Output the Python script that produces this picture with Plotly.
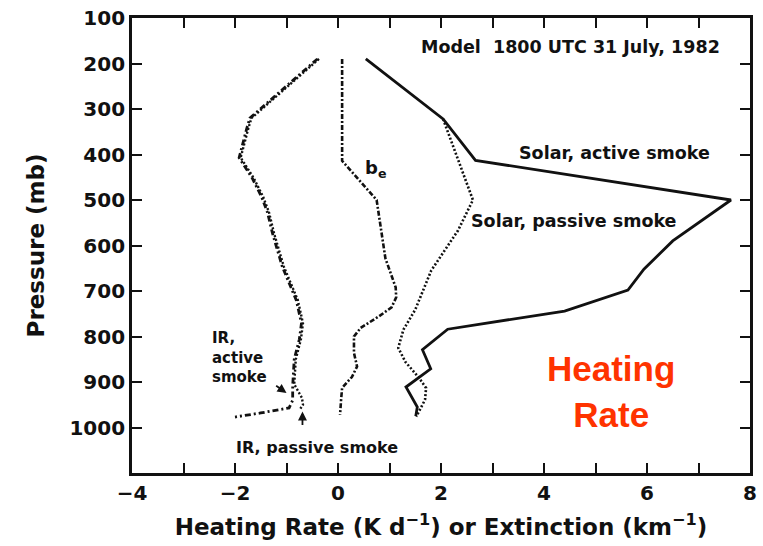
import plotly.graph_objects as go

# Vertical profiles: pressure levels (mb) and values (K/day or km^-1)
solar_active_x = [0.54, 2.04, 2.67, 7.63, 6.5, 5.94, 5.63, 4.40, 2.13, 1.64, 1.80, 1.32, 1.54, 1.51]
solar_active_p = [190, 322, 413, 500, 590, 652, 698, 744, 784, 829, 871, 911, 955, 975]

solar_passive_x = [2.04, 2.62, 2.33, 1.81, 1.50, 1.27, 1.17, 1.31, 1.56, 1.71, 1.69, 1.60, 1.52]
solar_passive_p = [322, 500, 567, 655, 741, 785, 825, 856, 889, 913, 939, 957, 976]

be_x = [0.08, 0.08, 0.75, 0.92, 1.12, 1.13, 1.04, 0.79, 0.44, 0.31, 0.31, 0.37, 0.27, 0.08, 0.06, 0.04]
be_p = [190, 414, 500, 628, 692, 714, 736, 756, 781, 800, 836, 866, 889, 913, 939, 972]

ir_active_x = [-0.40, -1.71, -1.77, -1.87, -1.92, -1.67, -1.48, -1.37, -1.27, -1.08, -0.81, -0.71,
               -0.75, -0.85, -0.88, -0.88, -0.95, -1.50, -2.00]
ir_active_p = [190, 320, 342, 386, 407, 451, 494, 527, 574, 647, 720, 771,
               806, 850, 909, 940, 957, 968, 977]

ir_passive_x = [-0.37, -1.68, -1.74, -1.84, -1.89, -1.64, -1.45, -1.34, -1.24, -1.05, -0.78, -0.68,
                -0.72, -0.82, -0.85, -0.70, -0.68, -0.75]
ir_passive_p = [190, 320, 342, 386, 407, 451, 494, 527, 574, 647, 720, 771,
                806, 850, 905, 935, 950, 962]

x_ticks = list(range(-4, 9))
x_tick_text = [("\u2212" + str(-v) if v < 0 else str(v)) if v % 2 == 0 else "" for v in x_ticks]
p_ticks = [100, 200, 300, 400, 500, 600, 700, 800, 900, 1000]

FONT = "DejaVu Sans"
INK = "#111111"

fig = go.Figure()

fig.add_trace(go.Scatter(x=solar_active_x, y=solar_active_p, mode="lines",
                         line=dict(color=INK, width=2.8), name="Solar, active smoke"))
fig.add_trace(go.Scatter(x=solar_passive_x, y=solar_passive_p, mode="lines",
                         line=dict(color=INK, width=2.6, dash="2px,2px"), name="Solar, passive smoke"))
fig.add_trace(go.Scatter(x=be_x, y=be_p, mode="lines",
                         line=dict(color=INK, width=2.6, dash="5px,2px,2px,2px"), name="b_e"))
fig.add_trace(go.Scatter(x=ir_passive_x, y=ir_passive_p, mode="lines",
                         line=dict(color=INK, width=2.4, dash="2px,2px"), name="IR, passive smoke"))
fig.add_trace(go.Scatter(x=ir_active_x, y=ir_active_p, mode="lines",
                         line=dict(color=INK, width=2.8, dash="6px,3px,2px,3px"), name="IR, active smoke"))

txt = dict(family=FONT, size=17.5, color=INK)
annotations = [
    dict(x=4.51, y=163, text="<b>Model  1800 UTC 31 July, 1982</b>", showarrow=False, font=txt),
    dict(x=5.37, y=397, text="<b>Solar, active smoke</b>", showarrow=False, font=txt),
    dict(x=4.59, y=546, text="<b>Solar, passive smoke</b>", showarrow=False, font=txt),
    dict(x=0.73, y=432, text="<b>b<sub>e</sub></b>", showarrow=False, font=dict(family=FONT, size=18, color=INK)),
    dict(x=-2.48, y=846, text="<b>IR,<br>active<br>smoke</b>", showarrow=False, xanchor="left",
         align="left", font=dict(family=FONT, size=15, color=INK)),
    dict(x=-1.0, y=924, ax=-1.23, ay=906, axref="x", ayref="y", text="", showarrow=True,
         arrowhead=2, arrowsize=1, arrowwidth=1.8, arrowcolor=INK),
    dict(x=-2.02, y=1043, text="<b>IR, passive smoke</b>", showarrow=False, xanchor="left",
         font=dict(family=FONT, size=16, color=INK)),
    dict(x=-0.69, y=965, ax=-0.69, ay=998, axref="x", ayref="y", text="", showarrow=True,
         arrowhead=2, arrowsize=1, arrowwidth=1.8, arrowcolor=INK),
    dict(x=5.31, y=920, text="<b>Heating<br>Rate</b>", showarrow=False,
         font=dict(family="Liberation Sans", size=35, color="#FF3300")),
]

axis_common = dict(showline=True, linewidth=2.8, linecolor=INK, mirror="ticks",
                   ticks="inside", ticklen=10, tickwidth=2.2, tickcolor=INK,
                   showgrid=False, zeroline=False,
                   tickfont=dict(family=FONT, size=20, color=INK, weight="bold"))

fig.update_layout(
    width=763, height=546,
    margin=dict(l=132, r=6, t=18, b=73),
    paper_bgcolor="white", plot_bgcolor="white",
    showlegend=False,
    annotations=annotations,
    xaxis=dict(range=[-4, 8], tickvals=x_ticks, ticktext=x_tick_text,
               title=dict(text="Heating Rate (K d<sup>\u22121</sup>) or Extinction (km<sup>\u22121</sup>)",
                          font=dict(family=FONT, size=23, color=INK, weight="bold"), standoff=15),
               **axis_common),
    yaxis=dict(range=[1100, 100], tickvals=p_ticks,
               title=dict(text="Pressure (mb)", font=dict(family=FONT, size=23, color=INK, weight="bold"),
                          standoff=19),
               **axis_common),
)

fig.write_html("out.html")
